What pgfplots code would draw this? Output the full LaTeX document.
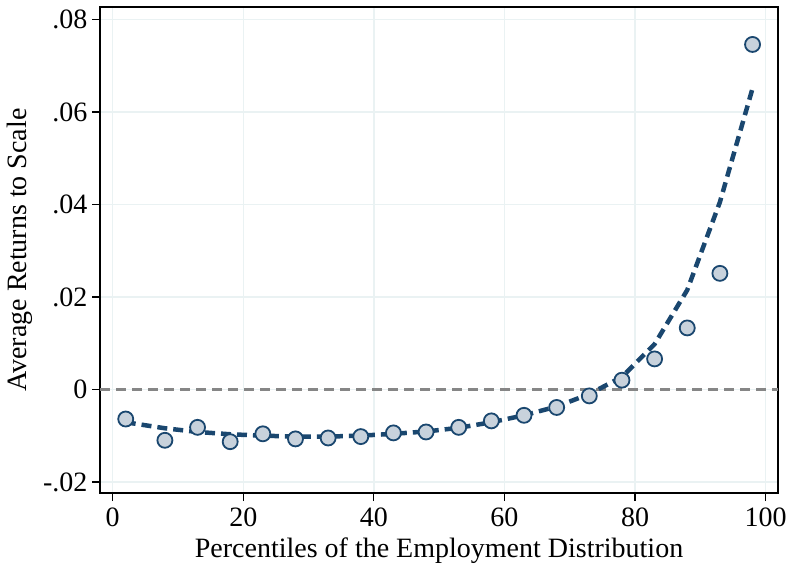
\documentclass[border=0pt]{standalone}
\usepackage{pgfplots}
\pgfplotsset{compat=1.18}
\usepackage{fontspec}
\setmainfont{Liberation Serif}
\definecolor{stnavy}{HTML}{1A476F}
\definecolor{stfill}{HTML}{C8D2DC}
\definecolor{stgrid}{HTML}{EAF2F3}

% binned means (x = percentile bin, y = avg returns to scale)
\pgfplotstableread{
x y
2 -0.0064
8 -0.0110
13 -0.0082
18 -0.0113
23 -0.0096
28 -0.0107
33 -0.0105
38 -0.0102
43 -0.0094
48 -0.0092
53 -0.0082
58 -0.0068
63 -0.0056
68 -0.0039
73 -0.0014
78 0.0020
83 0.0066
88 0.0133
93 0.0251
98 0.0746
}\bins
% fitted values
\pgfplotstableread{
x y
2 -0.0071
8 -0.0084
13 -0.0092
18 -0.0097
23 -0.0100
28 -0.0102
33 -0.0102
38 -0.0100
43 -0.0096
48 -0.0091
53 -0.0083
58 -0.0071
63 -0.0056
68 -0.0037
73 -0.0010
78 0.0027
83 0.0098
88 0.0215
93 0.0405
98 0.0651
}\fit

\begin{document}
\begin{tikzpicture}
\begin{axis}[
  scale only axis,
  width=678pt, height=486pt,
  xmin=-1.94, xmax=101.9,
  ymin=-0.0224, ymax=0.0827,
  xtick={0,20,40,60,80,100},
  xticklabels={0,20,40,60,80,100},
  ytick={-0.02,0,0.02,0.04,0.06,0.08},
  yticklabels={-.02,0,.02,.04,.06,.08},
  tick label style={font=\fontsize{28}{32}\selectfont},
  label style={font=\fontsize{28}{32}\selectfont},
  xlabel={Percentiles of the Employment Distribution},
  ylabel={Average Returns to Scale},
  xlabel style={at={(axis description cs:0.5,0)}, anchor=base, yshift=-64pt},
  ylabel style={at={(axis description cs:-0.1077,0.5)}, anchor=base},
  tickpos=left,
  tick align=outside,
  major tick length=8pt,
  tick style={black, line width=1.2pt},
  axis line style={black, line width=1.5pt},
  grid=major,
  major grid style={stgrid, line width=1.5pt},
  xticklabel style={yshift=-3pt},
  yticklabel style={xshift=-1pt},
  clip=false,
]
\draw[gray!95, line width=2.5pt, dash pattern=on 10pt off 6pt]
  (axis cs:-1.94,0) -- (axis cs:101.9,0);
\addplot[stnavy, line width=4.5pt, dash pattern=on 10pt off 6pt] table[x=x,y=y] {\fit};
\addplot[only marks, mark=*, mark size=7.5pt,
  mark options={fill=stfill, draw=stnavy, line width=1.8pt}] table[x=x,y=y] {\bins};
\end{axis}
\pgfresetboundingbox
\path[use as bounding box] ([shift={(-100pt,-78pt)}]current axis.south west)
  rectangle ([shift={(13pt,7pt)}]current axis.north east);
\end{tikzpicture}
\end{document}
